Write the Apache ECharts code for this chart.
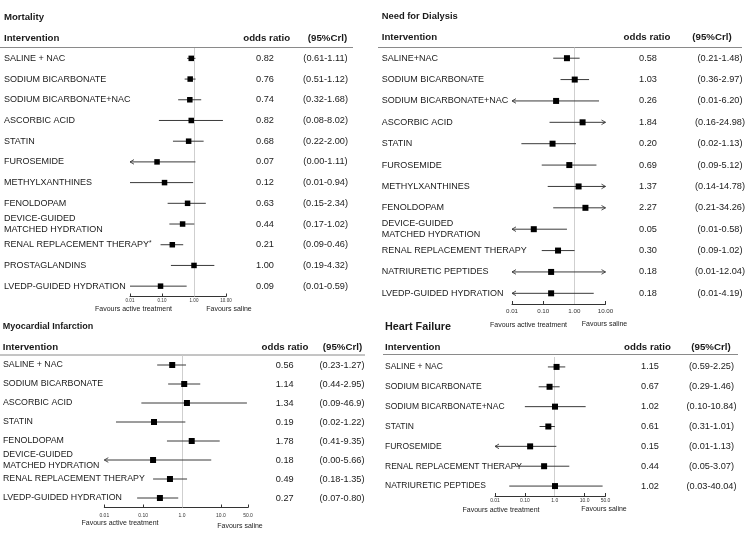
<!DOCTYPE html>
<html><head><meta charset="utf-8">
<script src="https://cdn.jsdelivr.net/npm/echarts@6/dist/echarts.min.js"></script>
<style>html,body{margin:0;padding:0;background:#fff}#c{width:750px;height:552px}</style>
</head><body><div id="c"></div>
<script>
// ---------- Mortality ----------
const mortNames = ['SALINE + NAC','SODIUM BICARBONATE','SODIUM BICARBONATE+NAC','ASCORBIC ACID','STATIN','FUROSEMIDE','METHYLXANTHINES','FENOLDOPAM','DEVICE-GUIDED\nMATCHED HYDRATION','RENAL REPLACEMENT THERAPY*','PROSTAGLANDINS','LVEDP-GUIDED HYDRATION'];
const mortOR = [0.82,0.76,0.74,0.82,0.68,0.07,0.12,0.63,0.44,0.21,1.00,0.09];
const mortLo = [0.61,0.51,0.32,0.08,0.22,0.00,0.01,0.15,0.17,0.09,0.19,0.01];
const mortHi = [1.11,1.12,1.68,8.02,2.00,1.11,0.94,2.34,1.02,0.46,4.32,0.59];
const mortCI = ['(0.61-1.11)','(0.51-1.12)','(0.32-1.68)','(0.08-8.02)','(0.22-2.00)','(0.00-1.11)','(0.01-0.94)','(0.15-2.34)','(0.17-1.02)','(0.09-0.46)','(0.19-4.32)','(0.01-0.59)'];
const mortArrowL = [0,0,0,0,0,1,0,0,0,0,0,0];
const mortArrowR = [0,0,0,0,0,0,0,0,0,0,0,0];
const mortTicks = [0.01,0.1,1,10];
const mortTickLabels = ['0.01','0.10','1.00','10.00'];

// ---------- Need for Dialysis ----------
const dialNames = ['SALINE+NAC','SODIUM BICARBONATE','SODIUM BICARBONATE+NAC','ASCORBIC ACID','STATIN','FUROSEMIDE','METHYLXANTHINES','FENOLDOPAM','DEVICE-GUIDED\nMATCHED HYDRATION','RENAL REPLACEMENT THERAPY','NATRIURETIC PEPTIDES','LVEDP-GUIDED HYDRATION'];
const dialOR = [0.58,1.03,0.26,1.84,0.20,0.69,1.37,2.27,0.05,0.30,0.18,0.18];
const dialLo = [0.21,0.36,0.01,0.16,0.02,0.09,0.14,0.21,0.01,0.09,0.01,0.01];
const dialHi = [1.48,2.97,6.20,24.98,1.13,5.12,14.78,34.26,0.58,1.02,12.04,4.19];
const dialCI = ['(0.21-1.48)','(0.36-2.97)','(0.01-6.20)','(0.16-24.98)','(0.02-1.13)','(0.09-5.12)','(0.14-14.78)','(0.21-34.26)','(0.01-0.58)','(0.09-1.02)','(0.01-12.04)','(0.01-4.19)'];
const dialArrowL = [0,0,1,0,0,0,0,0,1,0,1,1];
const dialArrowR = [0,0,0,1,0,0,1,1,0,0,1,0];
const dialTicks = [0.01,0.1,1,10];
const dialTickLabels = ['0.01','0.10','1.00','10.00'];

// ---------- Myocardial Infarction ----------
const miNames = ['SALINE + NAC','SODIUM BICARBONATE','ASCORBIC ACID','STATIN','FENOLDOPAM','DEVICE-GUIDED\nMATCHED HYDRATION','RENAL REPLACEMENT THERAPY','LVEDP-GUIDED HYDRATION'];
const miOR = [0.56,1.14,1.34,0.19,1.78,0.18,0.49,0.27];
const miLo = [0.23,0.44,0.09,0.02,0.41,0.00,0.18,0.07];
const miHi = [1.27,2.95,46.9,1.22,9.35,5.66,1.35,0.80];
const miCI = ['(0.23-1.27)','(0.44-2.95)','(0.09-46.9)','(0.02-1.22)','(0.41-9.35)','(0.00-5.66)','(0.18-1.35)','(0.07-0.80)'];
const miArrowL = [0,0,0,0,0,1,0,0];
const miArrowR = [0,0,0,0,0,0,0,0];
const miTicks = [0.01,0.1,1,10,50];
const miTickLabels = ['0.01','0.10','1.0','10.0','50.0'];

// ---------- Heart Failure ----------
const hfNames = ['SALINE + NAC','SODIUM BICARBONATE','SODIUM BICARBONATE+NAC','STATIN','FUROSEMIDE','RENAL REPLACEMENT THERAPY','NATRIURETIC PEPTIDES'];
const hfOR = [1.15,0.67,1.02,0.61,0.15,0.44,1.02];
const hfLo = [0.59,0.29,0.10,0.31,0.01,0.05,0.03];
const hfHi = [2.25,1.46,10.84,1.01,1.13,3.07,40.04];
const hfCI = ['(0.59-2.25)','(0.29-1.46)','(0.10-10.84)','(0.31-1.01)','(0.01-1.13)','(0.05-3.07)','(0.03-40.04)'];
const hfArrowL = [0,0,0,0,1,0,0];
const hfArrowR = [0,0,0,0,0,0,0];
const hfTicks = [0.01,0.1,1,10,50];
const hfTickLabels = ['0.01','0.10','1.0','10.0','50.0'];

const FONT = '"Liberation Sans", Arial, Helvetica, sans-serif';
const TXT = '#1a1a1a';

const panels = [
  {title:'Mortality', titleSize:9.6, titleX:4, titleY:18, headY:38.3, lineY:47.5, lineX0:0, lineX1:353,
   introX:4, orHX:266.7, ciHX:327.5, orX:265, ciX:325.5,
   grid:{left:130, top:48, width:96, height:248.5}, xMax:10, sq:5.5, rowFont:9,
   names:mortNames, or:mortOR, lo:mortLo, hi:mortHi, ci:mortCI, aL:mortArrowL, aR:mortArrowR,
   ticks:mortTicks, tickLabels:mortTickLabels, tickFont:4.5, tickMargin:2,
   favY:309, favAX:133.5, favSX:229, favSY:309},
  {title:'Need for Dialysis', titleSize:9.4, titleX:381.7, titleY:17.3, headY:37.7, lineY:47.5, lineX0:378, lineX1:742,
   introX:381.7, orHX:647, ciHX:712, orX:648, ciX:720,
   grid:{left:512, top:47.5, width:93.5, height:256.5}, xMax:10, sq:6, rowFont:9,
   names:dialNames, or:dialOR, lo:dialLo, hi:dialHi, ci:dialCI, aL:dialArrowL, aR:dialArrowR,
   ticks:dialTicks, tickLabels:dialTickLabels, tickFont:6.2, tickMargin:4,
   favY:325, favAX:528.5, favSX:604.5, favSY:324},
  {title:'Myocardial Infarction', titleSize:9, titleX:2.7, titleY:327.7, headY:347.3, lineY:355, lineX0:0, lineX1:365,
   introX:2.7, orHX:285, ciHX:342.5, orX:284.7, ciX:342,
   grid:{left:104, top:355.5, width:144, height:152}, xMax:50, sq:6, rowFont:8.8,
   names:miNames, or:miOR, lo:miLo, hi:miHi, ci:miCI, aL:miArrowL, aR:miArrowR,
   ticks:miTicks, tickLabels:miTickLabels, tickFont:5, tickMargin:5.5,
   favY:523, favAX:120, favSX:240, favSY:526},
  {title:'Heart Failure', titleSize:10.8, titleX:385, titleY:328.3, headY:347.3, lineY:354.5, lineX0:383, lineX1:738,
   introX:385, orHX:647.5, ciHX:711, orX:650, ciX:711.5,
   grid:{left:495, top:357, width:110.5, height:139}, xMax:50, sq:6, rowFont:8.5,
   names:hfNames, or:hfOR, lo:hfLo, hi:hfHi, ci:hfCI, aL:hfArrowL, aR:hfArrowR,
   ticks:hfTicks, tickLabels:hfTickLabels, tickFont:5, tickMargin:2.5,
   favY:510, favAX:501, favSX:604, favSY:509}
];

function makeRender(p) {
  return function (params, api) {
    const i = params.dataIndex;
    const idx = api.value(0);
    const cl = v => Math.min(Math.max(v, 0.01), p.xMax);
    const y = api.coord([1, idx])[1];
    const x0 = api.coord([cl(api.value(2)), idx])[0];
    const x1 = api.coord([cl(api.value(3)), idx])[0];
    const xc = api.coord([api.value(1), idx])[0];
    const s = p.sq;
    const kids = [
      {type:'line', shape:{x1:x0, y1:y, x2:x1, y2:y}, style:{stroke:'#3a3a3a', lineWidth:1}}
    ];
    if (p.aL[i]) kids.push({type:'polyline', shape:{points:[[x0+4,y-2.3],[x0,y],[x0+4,y+2.3]]}, style:{stroke:'#3a3a3a', fill:null, lineWidth:0.9}});
    if (p.aR[i]) kids.push({type:'polyline', shape:{points:[[x1-4,y-2.3],[x1,y],[x1-4,y+2.3]]}, style:{stroke:'#3a3a3a', fill:null, lineWidth:0.9}});
    kids.push({type:'rect', shape:{x:xc - s/2, y:y - s/2, width:s, height:s}, style:{fill:'#000'}});
    kids.push({type:'text', style:{text:api.value(1).toFixed(2), x:p.orX, y:y, align:'center', verticalAlign:'middle', font:'9.2px ' + FONT, fill:TXT}});
    kids.push({type:'text', style:{text:p.ci[i], x:p.ciX, y:y, align:'center', verticalAlign:'middle', font:'9.2px ' + FONT, fill:TXT}});
    return {type:'group', children:kids};
  };
}

const grids = [], xAxes = [], yAxes = [], series = [], graphics = [];
panels.forEach((p, k) => {
  grids.push(Object.assign({containLabel:false}, p.grid));
  const tk = p.ticks, tl = p.tickLabels;
  xAxes.push({
    type:'log', logBase:10, gridIndex:k, min:0.01, max:p.xMax,
    axisLine:{show:true, lineStyle:{color:'#333', width:1}},
    axisTick:{show:true, inside:true, length:3, customValues:tk, lineStyle:{color:'#333', width:1}},
    axisLabel:{show:true, customValues:tk, fontSize:p.tickFont, margin:p.tickMargin, color:'#333', fontFamily:FONT,
      formatter: v => { for (let j = 0; j < tk.length; j++) { if (Math.abs(v - tk[j]) / tk[j] < 1e-6) return tl[j]; } return ''; }},
    splitLine:{show:false}, minorTick:{show:false}
  });
  yAxes.push({
    type:'category', gridIndex:k, data:p.names, inverse:true, boundaryGap:true,
    axisLine:{show:false}, axisTick:{show:false}, splitLine:{show:false},
    axisLabel:{interval:0, align:'left', margin:p.grid.left - p.introX, fontSize:p.rowFont, color:TXT, fontFamily:FONT, lineHeight:11,
      formatter: v => v.replace('*', '{sup|*}'),
      rich:{sup:{fontSize:6.5, color:TXT, fontFamily:FONT, verticalAlign:'top', padding:[0,0,4,0]}}}
  });
  series.push({
    type:'line', xAxisIndex:k, yAxisIndex:k, data:[], z:1, silent:true,
    markLine:{silent:true, symbol:['none','none'], label:{show:false}, animation:false,
      lineStyle:{color:'#cfcfcf', width:1, type:'solid'}, data:[{xAxis:1}]}
  });
  series.push({
    type:'custom', xAxisIndex:k, yAxisIndex:k, z:5, clip:false, silent:true,
    renderItem: makeRender(p),
    encode:{x:1, y:0},
    data: p.or.map((v, i) => [i, v, p.lo[i], p.hi[i]])
  });
  graphics.push({type:'text', left:p.titleX, top:p.titleY - p.titleSize*0.6, style:{text:p.title, font:'bold ' + p.titleSize + 'px ' + FONT, fill:TXT}});
  graphics.push({type:'text', x:p.introX, y:p.headY, style:{text:'Intervention', font:'bold 9.7px ' + FONT, fill:TXT, verticalAlign:'middle', align:'left'}});
  graphics.push({type:'text', x:p.orHX, y:p.headY, style:{text:'odds ratio', font:'bold 9.7px ' + FONT, fill:TXT, verticalAlign:'middle', align:'center'}});
  graphics.push({type:'text', x:p.ciHX, y:p.headY, style:{text:'(95%Crl)', font:'bold 9.7px ' + FONT, fill:TXT, verticalAlign:'middle', align:'center'}});
  graphics.push({type:'line', shape:{x1:p.lineX0, y1:p.lineY, x2:p.lineX1, y2:p.lineY}, style:{stroke:'#8a8a8a', lineWidth:1}});
  graphics.push({type:'text', x:p.favAX, y:p.favY, style:{text:'Favours active treatment', font:'7px ' + FONT, fill:'#222', verticalAlign:'middle', align:'center'}});
  graphics.push({type:'text', x:p.favSX, y:p.favSY, style:{text:'Favours saline', font:'7px ' + FONT, fill:'#222', verticalAlign:'middle', align:'center'}});
});

const chart = echarts.init(document.getElementById('c'), null, {renderer:'canvas'});
chart.setOption({
  backgroundColor:'#fff', animation:false,
  grid:grids, xAxis:xAxes, yAxis:yAxes, series:series, graphic:graphics
});
</script>
</body></html>
